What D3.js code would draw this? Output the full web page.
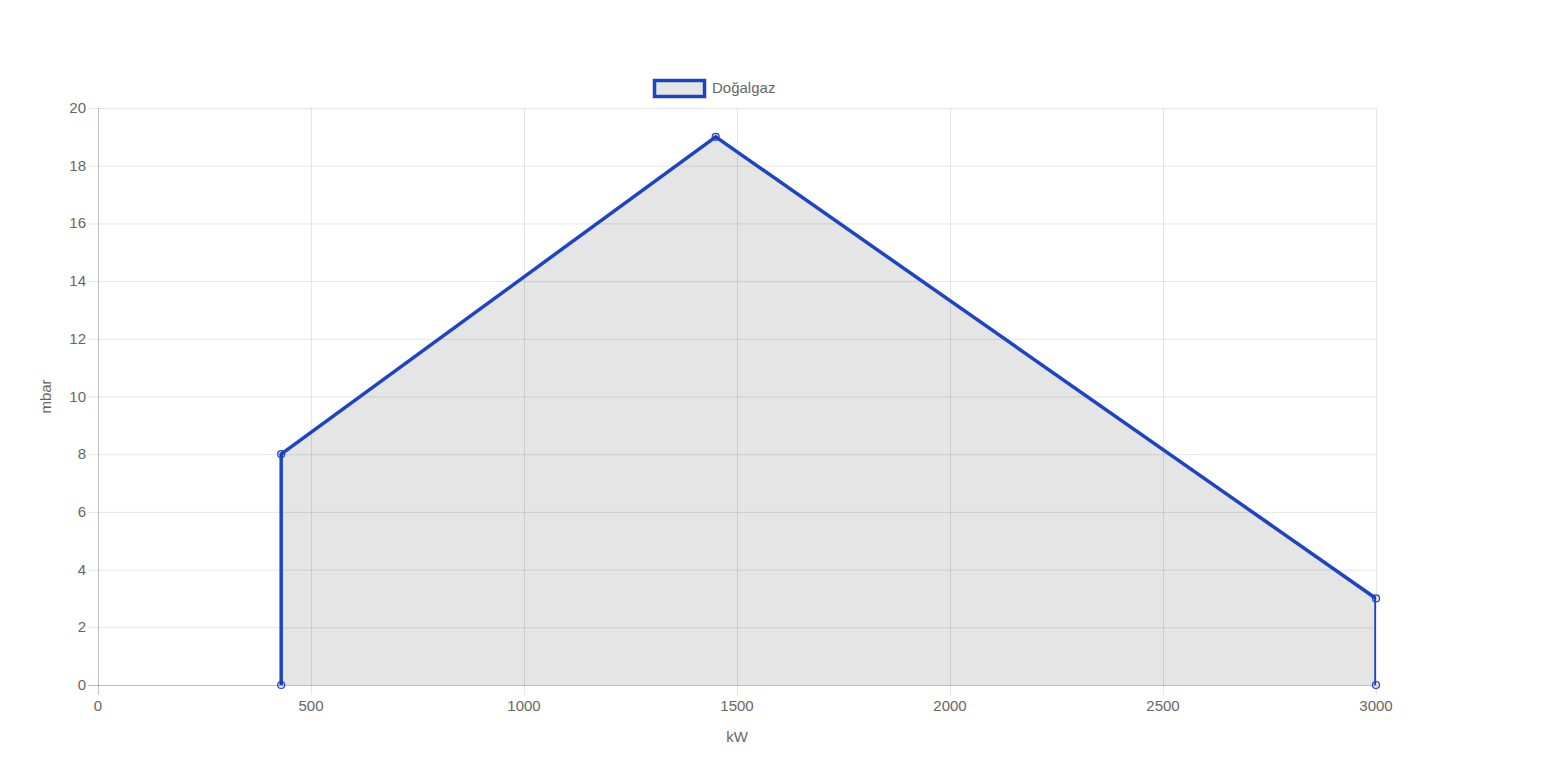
<!DOCTYPE html>
<html><head><meta charset="utf-8">
<script src="https://cdn.jsdelivr.net/npm/d3@7"></script>
<style>body{margin:0;background:#fff;}svg{display:block;font-family:"Liberation Sans",Arial,sans-serif;}</style>
</head><body>
<svg id="c" width="1550" height="776"></svg>
<script>
const seriesName = "Doğalgaz";
const xValues = [430, 430, 1450, 3000, 3000];
const yValues = [0, 8, 19, 3, 0];
const xTicks = [0, 500, 1000, 1500, 2000, 2500, 3000];
const yTicks = [0, 2, 4, 6, 8, 10, 12, 14, 16, 18, 20];
const xTitle = "kW", yTitle = "mbar";

const svg = d3.select("#c");
const L = 98, R = 1376, T = 108, B = 685;
const x = d3.scaleLinear().domain([0, 3000]).range([L, R]);
const y = d3.scaleLinear().domain([0, 20]).range([B, T]);
const textCol = "#666", gridCol = "rgba(0,0,0,0.1)", axisCol = "rgba(0,0,0,0.25)";
const lineCol = "#1c44c4";

// grid
const g = svg.append("g");
g.selectAll(".vx").data(xTicks).join("line")
  .attr("x1", d => x(d) + 0.5).attr("x2", d => x(d) + 0.5)
  .attr("y1", T).attr("y2", B + 10)
  .attr("stroke", d => d === 0 ? axisCol : gridCol).attr("stroke-width", 1);
g.selectAll(".hy").data(yTicks).join("line")
  .attr("x1", L - 10).attr("x2", R)
  .attr("y1", d => y(d) + 0.5).attr("y2", d => y(d) + 0.5)
  .attr("stroke", d => d === 0 ? axisCol : gridCol).attr("stroke-width", 1);

// area + line clipped to chart area
svg.append("clipPath").attr("id", "clip").append("rect")
  .attr("x", L).attr("y", T - 5).attr("width", R - L).attr("height", B - T + 5);
const pts = xValues.map((v, i) => [v, yValues[i]]);
const plot = svg.append("g").attr("clip-path", "url(#clip)");
plot.append("path").datum(pts)
  .attr("d", d3.area().x(d => x(d[0])).y0(y(0)).y1(d => y(d[1])))
  .attr("fill", "rgba(0,0,0,0.1)");
plot.append("path").datum(pts)
  .attr("d", d3.line().x(d => x(d[0])).y(d => y(d[1])))
  .attr("fill", "none").attr("stroke", lineCol).attr("stroke-width", 3.5)
  .attr("stroke-linejoin", "miter");

// points
svg.selectAll(".pt").data(pts).join("circle")
  .attr("cx", d => x(d[0])).attr("cy", d => y(d[1])).attr("r", 3.5)
  .attr("fill", "rgba(0,0,0,0.1)").attr("stroke", lineCol).attr("stroke-width", 1.2);

// tick labels
svg.selectAll(".xl").data(xTicks).join("text")
  .attr("x", d => x(d)).attr("y", 711).attr("text-anchor", "middle")
  .attr("font-size", 15).attr("fill", textCol).text(d => d);
svg.selectAll(".yl").data(yTicks).join("text")
  .attr("x", 86).attr("y", d => y(d) + 5).attr("text-anchor", "end")
  .attr("font-size", 15).attr("fill", textCol).text(d => d);

// titles
svg.append("text").attr("x", (L + R) / 2).attr("y", 742).attr("text-anchor", "middle")
  .attr("font-size", 15).attr("fill", textCol).text(xTitle);
svg.append("text").attr("transform", `translate(51,${(T + B) / 2}) rotate(-90)`)
  .attr("text-anchor", "middle").attr("font-size", 15).attr("fill", textCol).text(yTitle);

// legend
svg.append("rect").attr("x", 654.5).attr("y", 80.5).attr("width", 50).attr("height", 16)
  .attr("fill", "rgba(0,0,0,0.1)").attr("stroke", lineCol).attr("stroke-width", 3.5);
svg.append("text").attr("x", 712).attr("y", 93).attr("font-size", 15)
  .attr("fill", textCol).text(seriesName);
</script>
</body></html>
